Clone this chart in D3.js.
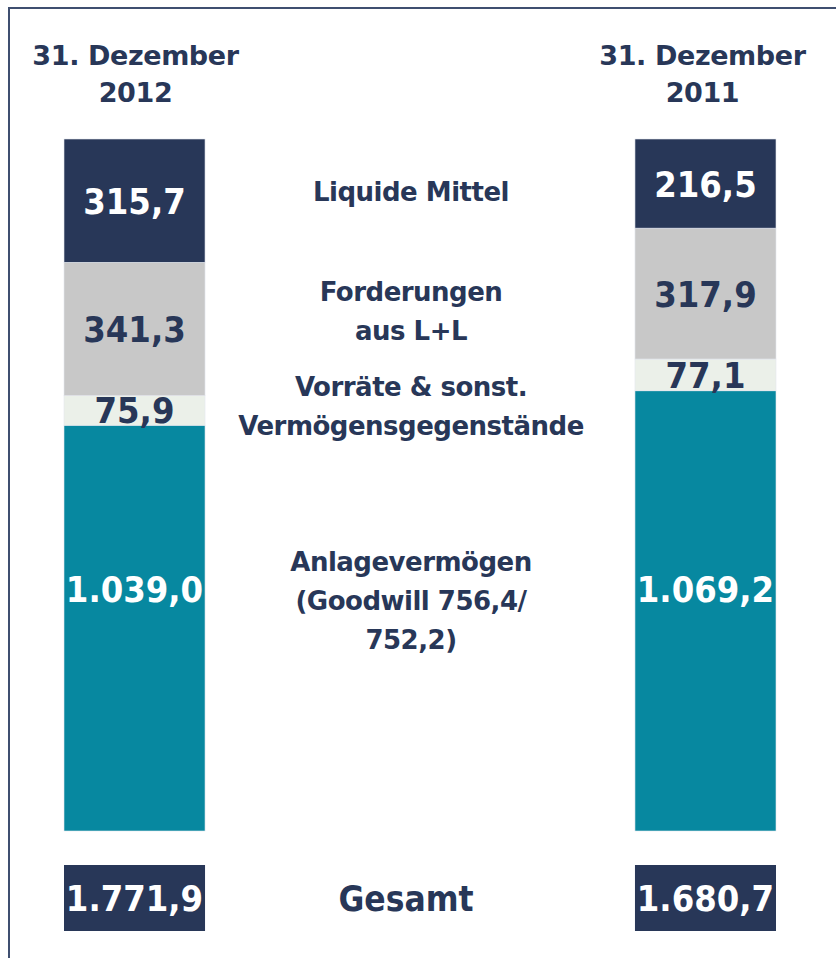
<!DOCTYPE html>
<html lang="de">
<head>
<meta charset="UTF-8">
<title>Aktiva 2012 / 2011</title>
<script src="https://d3js.org/d3.v7.min.js"></script>
<style>
    body { margin: 0; background: #fff; }
    svg text { font-family: "DejaVu Sans", Verdana, sans-serif; font-weight: bold; }
    .value { font-family: "DejaVu Sans Condensed", "DejaVu Sans", sans-serif; font-stretch: condensed; }
</style>
</head>
<body>
<div id="chart"></div>
<script>
// data
var years = ["2012", "2011"];
var headerLines = [["31. Dezember", "2012"], ["31. Dezember", "2011"]];
// stacking order, bottom to top
var categories = ["Anlagevermögen", "Vorräte", "Forderungen", "Liquide Mittel"];
var categoryLines = [
    ["Anlagevermögen", "(Goodwill 756,4/", "752,2)"],
    ["Vorräte & sonst.", "Vermögensgegenstände"],
    ["Forderungen", "aus L+L"],
    ["Liquide Mittel"]
];
var values2012 = [1039.0, 75.9, 341.3, 315.7];
var values2011 = [1069.2, 77.1, 317.9, 216.5];
var totals = [1771.9, 1680.7];
var totalLabel = "Gesamt";

var colors = ["#0788a0", "#ebf0e9", "#c8c8c8", "#283758"];
var labelColors = ["#ffffff", "#283758", "#283758", "#ffffff"];
var navy = "#283758";

var width = 836, height = 958;
var barTop = 139, barBottom = 831;

var fmt = d3.formatLocale({decimal: ",", thousands: ".", grouping: [3], currency: ["", "€"]}).format(",.1f");

var rows = years.map(function (y, i) {
    var r = {year: y};
    var vals = i === 0 ? values2012 : values2011;
    categories.forEach(function (c, j) { r[c] = vals[j]; });
    return r;
});

var series = d3.stack().keys(categories).offset(d3.stackOffsetExpand)(rows);

var svg = d3.select("#chart").append("svg")
    .attr("width", width)
    .attr("height", height);

// frame
svg.append("path")
    .attr("d", "M9," + height + "V8H" + width)
    .attr("fill", "none")
    .attr("stroke", "#3f4f70")
    .attr("stroke-width", 2);

var x = d3.scaleBand()
    .domain(years)
    .range([64, 776])
    .paddingInner(0.753);

var y = d3.scaleLinear()
    .domain([0, 1])
    .range([barBottom, barTop]);

// headers
years.forEach(function (yr, i) {
    var t = svg.append("text")
        .attr("text-anchor", "middle")
        .attr("fill", navy)
        .style("font-size", "27px")
        .style("letter-spacing", "-0.4px");
    headerLines[i].forEach(function (line, k) {
        t.append("tspan")
            .attr("x", x(yr) + x.bandwidth() / 2 + (i === 0 ? 1 : -3))
            .attr("y", 65 + k * 37)
            .text(line);
    });
});

// bars
var layer = svg.selectAll("g.layer")
    .data(series)
    .join("g")
    .attr("class", "layer")
    .attr("fill", function (d, i) { return colors[i]; });

layer.selectAll("rect")
    .data(function (d) { return d; })
    .join("rect")
    .attr("x", function (d) { return x(d.data.year); })
    .attr("y", function (d) { return y(d[1]); })
    .attr("width", x.bandwidth())
    .attr("height", function (d) { return y(d[0]) - y(d[1]); })
    .attr("stroke", "#e4e7ee")
    .attr("stroke-width", 0.6);

// value labels
series.forEach(function (s, i) {
    s.forEach(function (d) {
        var cy = i === 0 ? y(0.35) : (y(d[0]) + y(d[1])) / 2;
        svg.append("text")
            .attr("class", "value")
            .attr("x", x(d.data.year) + x.bandwidth() / 2)
            .attr("y", cy)
            .attr("dy", "0.36em")
            .attr("text-anchor", "middle")
            .attr("fill", labelColors[i])
            .style("font-size", "36px")
            .text(fmt(d.data[s.key]));
    });
});

// category labels in the middle
var midX = (x(years[0]) + x.bandwidth() + x(years[1])) / 2 - 9;
var labelShift = [-19, 13, 0, 0];
var lineH = 39;
series.forEach(function (s, i) {
    var cy = d3.mean(s, function (d) { return (y(d[0]) + y(d[1])) / 2; }) + labelShift[i];
    var lines = categoryLines[i];
    var t = svg.append("text")
        .attr("text-anchor", "middle")
        .attr("fill", navy)
        .style("font-size", "26px")
        .style("letter-spacing", "-0.5px");
    lines.forEach(function (line, k) {
        t.append("tspan")
            .attr("x", midX)
            .attr("y", cy + (k - (lines.length - 1) / 2) * lineH)
            .attr("dy", "0.36em")
            .text(line);
    });
});

// totals
var totTop = 865, totH = 66;
svg.selectAll("rect.total")
    .data(totals)
    .join("rect")
    .attr("class", "total")
    .attr("x", function (d, i) { return x(years[i]); })
    .attr("y", totTop)
    .attr("width", x.bandwidth())
    .attr("height", totH)
    .attr("fill", navy);

svg.selectAll("text.totalval")
    .data(totals)
    .join("text")
    .attr("class", "totalval value")
    .attr("x", function (d, i) { return x(years[i]) + x.bandwidth() / 2; })
    .attr("y", totTop + totH / 2)
    .attr("dy", "0.36em")
    .attr("text-anchor", "middle")
    .attr("fill", "#fff")
    .style("font-size", "36px")
    .text(function (d) { return fmt(d); });

svg.append("text")
    .attr("class", "value")
    .attr("x", midX - 5)
    .attr("y", totTop + totH / 2)
    .attr("dy", "0.36em")
    .attr("text-anchor", "middle")
    .attr("fill", navy)
    .style("font-size", "35px")
    .text(totalLabel);
</script>
</body>
</html>
